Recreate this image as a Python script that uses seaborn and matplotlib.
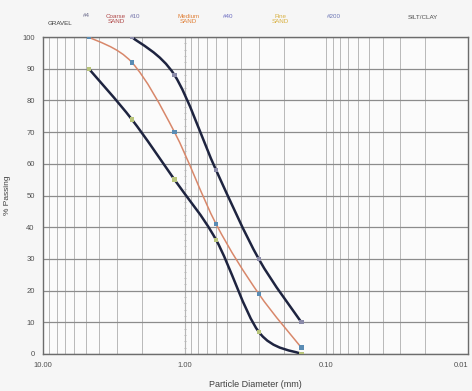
import numpy as np
import pandas as pd
import matplotlib
matplotlib.use("Agg")
import matplotlib.pyplot as plt
import matplotlib.transforms as mtransforms
from matplotlib.path import Path
from matplotlib.patches import PathPatch
from matplotlib.ticker import FixedLocator, MultipleLocator, NullFormatter
import seaborn as sns

# ---- data ----
sieve_mm = [4.75, 2.36, 1.18, 0.6, 0.3, 0.15]
sample_pass = [100, 92, 70, 41, 19, 2]
lower_pass = [90, 74, 55, 36, 7, 0]
upper_mm = [2.36, 1.18, 0.6, 0.3, 0.15]
upper_pass = [100, 88, 58, 30, 10]

x_ticks = [10, 1, 0.1, 0.01]
x_tick_labels = ["10.00", "1.00", "0.10", "0.01"]
y_ticks = list(range(0, 101, 10))

header_text = ["GRAVEL", "#4", "Coarse\nSAND", "#10", "Medium\nSAND", "#40",
               "Fine\nSAND", "#200", "SILT/CLAY"]
header_mm = [7.6, 4.9, 3.05, 2.25, 0.94, 0.49, 0.21, 0.089, 0.021]
header_y = [1.042, 1.068, 1.057, 1.066, 1.057, 1.066, 1.057, 1.066, 1.063]
header_col = ["#3c3c3c", "#6a6a8a", "#b04848", "#7070a8", "#e08038", "#6a6ac0",
              "#d8b040", "#6a74b4", "#4c4c4c"]

sns.set_style("white")
plt.rcParams["font.family"] = ["Liberation Sans", "DejaVu Sans"]

fig = plt.figure(figsize=(4.72, 3.91), dpi=100, facecolor="#f6f6f6")
ax = fig.add_axes([43 / 472, 1 - 354 / 391, 425 / 472, 317 / 391])
ax.set_facecolor("#fbfbfb")
ax.set_xscale("log")
ax.set_xlim(10, 0.01)
ax.set_ylim(0, 100)


def smooth_path(xs, ys):
    P = np.column_stack([np.log10(np.asarray(xs, float)), np.asarray(ys, float)])
    verts = [P[0]]
    codes = [Path.MOVETO]
    n = len(P)
    for i in range(n - 1):
        p0 = P[i - 1] if i > 0 else P[i]
        p3 = P[i + 2] if i + 2 < n else P[i + 1]
        c1 = P[i] + (P[i + 1] - p0) / 6.0
        c2 = P[i + 1] - (p3 - P[i]) / 6.0
        verts += [c1, c2, P[i + 1]]
        codes += [Path.CURVE4] * 3
    V = np.array(verts)
    V[:, 0] = 10 ** V[:, 0]
    return Path(V, codes)


env_col = "#1e2440"
ax.add_patch(PathPatch(smooth_path(upper_mm, upper_pass), fill=False,
                       edgecolor=env_col, lw=1.8, zorder=4))
ax.add_patch(PathPatch(smooth_path(sieve_mm, lower_pass), fill=False,
                       edgecolor=env_col, lw=1.8, zorder=4))
ax.add_patch(PathPatch(smooth_path(sieve_mm, sample_pass), fill=False,
                       edgecolor="#d8876a", lw=1.1, zorder=5))

df_s = pd.DataFrame({"d": sieve_mm, "p": sample_pass})
df_l = pd.DataFrame({"d": sieve_mm, "p": lower_pass})
df_u = pd.DataFrame({"d": upper_mm, "p": upper_pass})
sns.scatterplot(data=df_u, x="d", y="p", ax=ax, marker="s", s=10,
                color="#8a8aa8", edgecolor="none", zorder=6)
sns.scatterplot(data=df_l, x="d", y="p", ax=ax, marker="s", s=10,
                color="#b8c47a", edgecolor="none", zorder=6)
sns.scatterplot(data=df_s, x="d", y="p", ax=ax, marker="s", s=10,
                color="#5a8cb4", edgecolor="none", zorder=7)

# grid
ax.set_axisbelow(True)
ax.yaxis.set_major_locator(FixedLocator(y_ticks))
ax.set_yticklabels([str(v) for v in y_ticks])
ax.xaxis.set_major_locator(FixedLocator(x_ticks))
ax.set_xticklabels(x_tick_labels)
ax.xaxis.set_minor_formatter(NullFormatter())
ax.grid(True, which="major", axis="y", color="#8c8c8c", lw=0.9)
ax.grid(True, which="both", axis="x", color="#b8b8b8", lw=0.7)
ax.tick_params(axis="both", which="both", length=0, labelsize=5.5,
               labelcolor="#505050")
ax.tick_params(axis="x", pad=6)
ax.tick_params(axis="y", pad=6)
xl = ax.get_xticklabels()
xl[-1].set_horizontalalignment("right")

for s in ax.spines.values():
    s.set_visible(True)
    s.set_color("#6c6c6c")
    s.set_linewidth(1.0)

# secondary axis line with small ticks at 1.00 mm
sec = ax.secondary_yaxis(1 / 3)
sec.set_yticks(y_ticks)
sec.yaxis.set_minor_locator(MultipleLocator(2))
sec.tick_params(which="both", direction="inout", length=1.6, width=0.5,
                colors="#a0a0a0", labelleft=False, labelright=False)
sec.set_yticklabels([])
sec.spines["left"].set_color("#9a9a9a")
sec.spines["left"].set_linewidth(0.8)

ax.set_xlabel("Particle Diameter (mm)", fontsize=6.5, color="#404040", labelpad=8)
ax.set_ylabel("% Passing", fontsize=6, color="#404040", labelpad=8)

trans = mtransforms.blended_transform_factory(ax.transData, ax.transAxes)
for t, xm, yy, c in zip(header_text, header_mm, header_y, header_col):
    ax.text(xm, yy, t, transform=trans, ha="center", va="center",
            fontsize=4.5, color=c, linespacing=1.0, clip_on=False)

fig.savefig("out.png", dpi=100, facecolor=fig.get_facecolor())
